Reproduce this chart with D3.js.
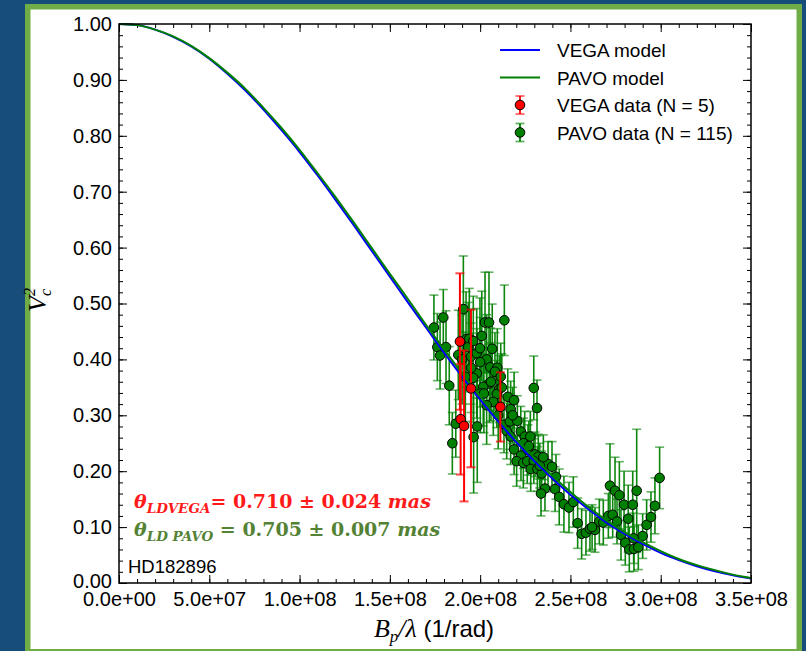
<!DOCTYPE html>
<html><head><meta charset="utf-8">
<script src="https://cdn.jsdelivr.net/npm/d3@7"></script>
<style>html,body{margin:0;padding:0;background:#174e79;} svg{display:block}</style>
</head><body><svg id="c" width="806" height="651"></svg>
<script>
// ---- data (baseline in units of 1e8 rad^-1) ----
const xTickValues = [0, 0.5, 1, 1.5, 2, 2.5, 3, 3.5];
const xTickLabels = ["0.0e+00","5.0e+07","1.0e+08","1.5e+08","2.0e+08","2.5e+08","3.0e+08","3.5e+08"];
const yTickValues = [0,0.1,0.2,0.3,0.4,0.5,0.6,0.7,0.8,0.9,1.0];
const yTickLabels = ["0.00","0.10","0.20","0.30","0.40","0.50","0.60","0.70","0.80","0.90","1.00"];

const modelBaseline = [0,0.1,0.2,0.3,0.4,0.5,0.6,0.7,0.8,0.9,1.0,1.1,1.2,1.3,1.4,1.5,1.6,1.7,1.8,1.9,2.0,2.1,2.2,2.3,2.4,2.5,2.6,2.7,2.8,2.9,3.0,3.1,3.2,3.3,3.4,3.5];
const vegaModel = [1.000,0.998,0.990,0.977,0.960,0.938,0.911,0.881,0.847,0.810,0.771,0.729,0.685,0.640,0.594,0.548,0.502,0.457,0.412,0.369,0.328,0.289,0.252,0.218,0.187,0.158,0.132,0.108,0.088,0.070,0.054,0.041,0.030,0.021,0.014,0.008];
const pavoModel = [1.000,0.998,0.990,0.978,0.961,0.939,0.913,0.884,0.850,0.814,0.775,0.733,0.690,0.645,0.599,0.553,0.508,0.462,0.418,0.375,0.334,0.295,0.258,0.224,0.192,0.163,0.136,0.112,0.091,0.073,0.057,0.043,0.032,0.023,0.015,0.009];

const vegaX   = [1.888, 1.892, 1.911, 1.949, 2.112];
const vegaV2  = [0.432, 0.293, 0.281, 0.348, 0.315];
const vegaErr = [0.122, 0.099, 0.135, 0.141, 0.062];

const pavoX = [1.744,1.796,1.907,1.763,1.811,1.778,1.829,1.865,1.846,1.879,1.922,1.940,1.934,1.962,1.949,1.981,1.999,2.009,2.027,2.049,
2.134,2.067,2.036,2.056,2.095,2.082,2.114,1.981,1.962,1.918,2.051,2.017,2.106,2.001,2.021,2.092,2.073,2.036,2.153,2.188,
2.169,2.297,2.315,1.984,1.964,2.132,2.164,2.206,2.147,2.169,2.225,2.247,2.278,2.188,2.226,2.265,2.304,2.322,2.202,2.239,
2.261,2.297,2.280,2.317,2.376,2.359,2.337,2.341,2.398,2.415,2.438,2.464,2.492,2.516,2.540,2.562,2.586,2.608,2.636,2.660,
2.682,2.710,2.734,2.758,2.780,2.804,2.826,2.852,2.876,2.820,2.797,2.845,2.719,2.747,2.771,2.867,2.900,2.922,2.946,2.968,
2.994,2.000,1.950,2.060,2.120,2.180,2.240,2.270,2.330,2.350,2.420,2.100,1.900,2.620,2.850];
const pavoV2 = [0.457,0.475,0.490,0.422,0.422,0.407,0.353,0.285,0.250,0.408,0.436,0.437,0.422,0.433,0.405,0.411,0.420,0.442,0.466,0.466,
0.470,0.419,0.400,0.386,0.385,0.378,0.369,0.375,0.367,0.369,0.357,0.351,0.347,0.339,0.339,0.338,0.324,0.318,0.333,0.327,
0.311,0.349,0.313,0.280,0.261,0.283,0.289,0.290,0.272,0.262,0.271,0.262,0.262,0.239,0.228,0.238,0.230,0.226,0.218,0.215,
0.218,0.218,0.204,0.204,0.213,0.169,0.160,0.196,0.208,0.168,0.154,0.141,0.135,0.145,0.107,0.088,0.090,0.097,0.095,0.110,
0.108,0.120,0.122,0.110,0.086,0.072,0.060,0.061,0.064,0.115,0.140,0.140,0.174,0.165,0.157,0.165,0.084,0.104,0.118,0.138,
0.188,0.395,0.385,0.360,0.350,0.300,0.250,0.245,0.210,0.225,0.190,0.300,0.400,0.100,0.080];
const pavoErr = [0.058,0.050,0.095,0.060,0.065,0.060,0.070,0.060,0.055,0.080,0.085,0.090,0.080,0.080,0.085,0.080,0.090,0.080,0.090,0.090,
0.063,0.080,0.080,0.070,0.070,0.070,0.060,0.080,0.080,0.080,0.070,0.070,0.060,0.070,0.070,0.060,0.060,0.070,0.050,0.050,
0.050,0.057,0.050,0.100,0.100,0.050,0.050,0.045,0.050,0.050,0.045,0.045,0.045,0.045,0.045,0.045,0.040,0.040,0.045,0.045,
0.040,0.040,0.040,0.040,0.040,0.040,0.040,0.040,0.045,0.040,0.050,0.050,0.045,0.045,0.045,0.045,0.040,0.040,0.040,0.040,
0.040,0.040,0.040,0.040,0.045,0.040,0.040,0.040,0.040,0.060,0.060,0.060,0.075,0.060,0.060,0.110,0.040,0.045,0.045,0.050,
0.055,0.080,0.080,0.070,0.060,0.050,0.045,0.045,0.040,0.040,0.040,0.060,0.080,0.040,0.045];

const legendLabels = ["VEGA model", "PAVO model", "VEGA data (N = 5)", "PAVO data (N = 115)"];
const starName = "HD182896";

// ---- styles ----
const C = {bg:"#174e79", frame:"#70ad47", blue:"#0000ff", green:"#008000", red:"#ff0000", annGreen:"#548235", annRed:"#ff1a1a"};
const L = 119, R = 751, T = 24, B = 583;
const sans = "'Liberation Sans', Arial, sans-serif";
const serif = "'Liberation Serif', 'DejaVu Serif', serif";

const svg = d3.select("#c");
svg.append("rect").attr("width",806).attr("height",651).attr("fill",C.bg);
svg.append("rect").attr("x",27.75).attr("y",6.75).attr("width",771.5).attr("height",645)
  .attr("fill","#ffffff").attr("stroke",C.frame).attr("stroke-width",5.5);

const x = d3.scaleLinear().domain([0,3.5]).range([L,R]);
const y = d3.scaleLinear().domain([0,1]).range([B,T]);

function styleAxis(g){
  g.select(".domain").remove();
  g.selectAll("line").attr("stroke","#000").attr("stroke-width",1);
  g.selectAll("text").attr("font-family",sans).attr("font-size",20).attr("fill","#000");
}
const xMinor = d3.range(0,36).map(i=>i/10);
const yMinor = d3.range(0,51).map(i=>i/50);

// minor ticks
[["axisBottom",B,xMinor,"x"],["axisTop",T,xMinor,"x"],["axisLeft",L,yMinor,"y"],["axisRight",R,yMinor,"y"]].forEach(([fn,pos,vals,dim])=>{
  const sc = dim==="x"?x:y;
  const g = svg.append("g").attr("transform", dim==="x"?`translate(0,${pos})`:`translate(${pos},0)`)
    .call(d3[fn](sc).tickValues(vals).tickSize(-4).tickSizeOuter(0).tickFormat(""));
  styleAxis(g);
});
// major ticks + labels
const gx = svg.append("g").attr("transform",`translate(0,${B})`)
  .call(d3.axisBottom(x).tickValues(xTickValues).tickSize(-8).tickSizeOuter(0).tickPadding(9).tickFormat((d,i)=>xTickLabels[i]));
styleAxis(gx);
const gy = svg.append("g").attr("transform",`translate(${L},0)`)
  .call(d3.axisLeft(y).tickValues(yTickValues).tickSize(-8).tickSizeOuter(0).tickPadding(7).tickFormat((d,i)=>yTickLabels[i]));
styleAxis(gy);
gy.selectAll(".tick").filter(d=>d===0).select("text").attr("dy","0.22em");
styleAxis(svg.append("g").attr("transform",`translate(0,${T})`).call(d3.axisTop(x).tickValues(xTickValues).tickSize(-8).tickSizeOuter(0).tickFormat("")));
styleAxis(svg.append("g").attr("transform",`translate(${R},0)`).call(d3.axisRight(y).tickValues(yTickValues).tickSize(-8).tickSizeOuter(0).tickFormat("")));

// data drawing helper
function drawData(xs, vs, es, col, barOp, capOp, w){
  const g = svg.append("g");
  xs.forEach((bx,i)=>{
    const cx = x(bx), y1 = y(vs[i]-es[i]), y2 = y(vs[i]+es[i]);
    g.append("line").attr("x1",cx).attr("x2",cx).attr("y1",y1).attr("y2",y2)
      .attr("stroke",col).attr("stroke-width",w).attr("opacity",barOp);
    [y1,y2].forEach(cy=>g.append("line").attr("x1",cx-4.5).attr("x2",cx+4.5).attr("y1",cy).attr("y2",cy)
      .attr("stroke",col).attr("stroke-width",w).attr("opacity",capOp));
  });
  return g;
}
function drawMarkers(xs, vs, col){
  svg.append("g").selectAll("circle").data(xs).join("circle")
    .attr("cx",d=>x(d)).attr("cy",(d,i)=>y(vs[i])).attr("r",4.8)
    .attr("fill",col).attr("stroke","#000").attr("stroke-width",1);
}

drawData(pavoX,pavoV2,pavoErr,C.green,0.95,0.6,1.6);
drawMarkers(pavoX,pavoV2,C.green);

const line = d3.line().x((d,i)=>x(modelBaseline[i])).y(d=>y(d)).curve(d3.curveMonotoneX);
svg.append("path").attr("d",line(vegaModel)).attr("fill","none").attr("stroke",C.blue).attr("stroke-width",2);
svg.append("path").attr("d",line(pavoModel)).attr("fill","none").attr("stroke",C.green).attr("stroke-width",2);

drawData(vegaX,vegaV2,vegaErr,C.red,1,0.7,2);
drawMarkers(vegaX,vegaV2,C.red);

// spines
svg.append("rect").attr("x",L).attr("y",T).attr("width",R-L).attr("height",B-T)
  .attr("fill","none").attr("stroke","#000").attr("stroke-width",1.5);

// legend
const legY = [50, 77.5, 105, 132.5];
const leg = svg.append("g");
legendLabels.forEach((lab,i)=>{
  const yy = legY[i];
  if(i<2){
    leg.append("line").attr("x1",500).attr("x2",540).attr("y1",yy).attr("y2",yy)
      .attr("stroke", i===0?C.blue:C.green).attr("stroke-width",2);
  } else {
    const col = i===2?C.red:C.green;
    leg.append("line").attr("x1",520).attr("x2",520).attr("y1",yy-9).attr("y2",yy+9).attr("stroke",col).attr("stroke-width",1.8);
    [yy-9,yy+9].forEach(cy=>leg.append("line").attr("x1",515.5).attr("x2",524.5).attr("y1",cy).attr("y2",cy).attr("stroke",col).attr("stroke-width",1.8).attr("opacity",0.6));
    leg.append("circle").attr("cx",520).attr("cy",yy).attr("r",4.8).attr("fill",col).attr("stroke","#000");
  }
  leg.append("text").attr("x",557).attr("y",yy+7).attr("font-family",sans).attr("font-size",19).text(lab);
});

// annotations
function thetaText(yy, col, sub, rest){
  const t = svg.append("text").attr("x",134).attr("y",yy).attr("font-family","'DejaVu Serif', serif")
    .attr("font-weight","bold").attr("font-size",19).attr("fill",col);
  t.append("tspan").attr("font-style","italic").text("θ");
  t.append("tspan").attr("font-style","italic").attr("font-size",13.5).attr("dy",5).text(sub);
  t.append("tspan").attr("dy",-5).text(rest);
  t.append("tspan").attr("font-style","italic").text("mas");
}
thetaText(508, C.annRed, "LDVEGA", "= 0.710 ± 0.024 ");
thetaText(536, C.annGreen, "LD PAVO", " = 0.705 ± 0.007 ");

svg.append("text").attr("x",128).attr("y",573).attr("font-family",sans).attr("font-size",18.5).text(starName);

// axis titles
const xt = svg.append("text").attr("x",434).attr("y",637).attr("text-anchor","middle").attr("font-size",24).attr("font-family",sans);
xt.append("tspan").attr("font-family",serif).attr("font-style","italic").attr("font-size",26).text("B");
xt.append("tspan").attr("font-family",serif).attr("font-style","italic").attr("font-size",17).attr("dy",5).text("p");
xt.append("tspan").attr("font-family",serif).attr("font-style","italic").attr("font-size",26).attr("dy",-5).text("/λ");
xt.append("tspan").text(" (1/rad)");

const yt = svg.append("text").attr("transform","translate(46,300) rotate(-90)").attr("text-anchor","middle")
  .attr("font-family",serif).attr("font-style","italic").attr("font-size",26);
yt.append("tspan").text("V");
yt.append("tspan").attr("font-size",16).attr("dy",5).text("c");
yt.append("tspan").attr("font-size",16).attr("dx",-7).attr("dy",-16).text("2");
</script></body></html>
